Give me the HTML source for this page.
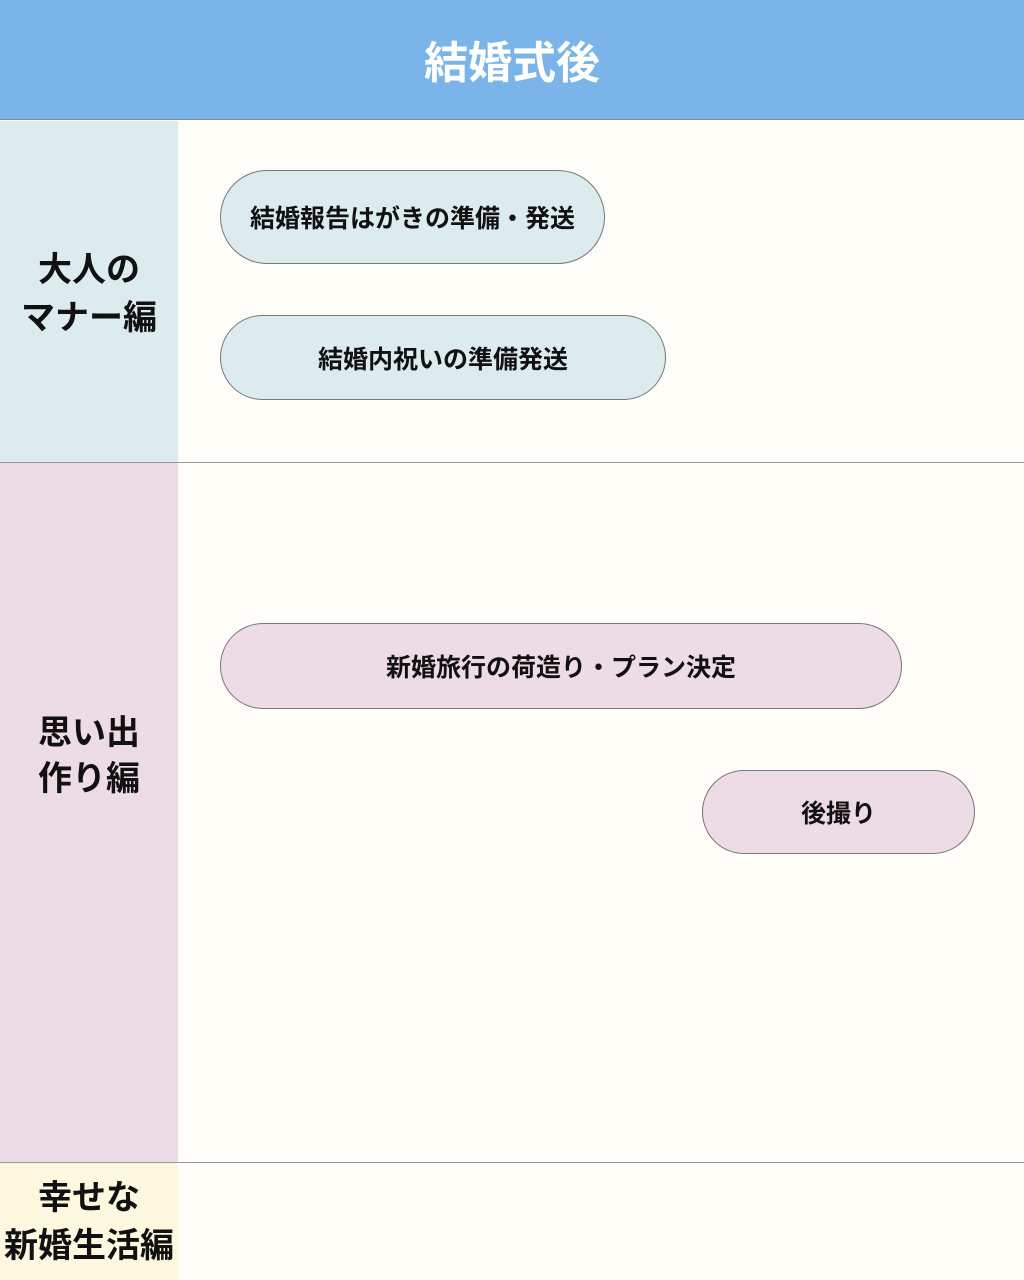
<!DOCTYPE html>
<html><head><meta charset="utf-8"><style>
*{margin:0;padding:0;box-sizing:border-box}
body{width:1024px;height:1280px;position:relative;background:#fefdf8;font-family:"Liberation Sans","Noto Sans CJK JP",sans-serif;font-weight:bold;overflow:hidden}
.abs{position:absolute}
.hdr{left:0;top:0;width:1024px;height:120px;background:#7ab4e8;border-bottom:1px solid #7a8a99;color:#fff;font-size:44px;display:flex;align-items:center;justify-content:center;padding-bottom:2px}
.side{left:0;width:178px;display:flex;align-items:center;justify-content:center;text-align:center;font-size:34px;line-height:48px;color:#111;white-space:nowrap}
.line{left:0;width:1024px;height:1px;background:#999}
.pill{display:flex;align-items:center;justify-content:center;border:1px solid #777;font-size:25px;color:#111}
</style></head><body>
<div class="abs hdr">結婚式後</div>
<div class="abs side" style="top:121px;height:341px;background:#dbebee;padding-top:4px">大人の<br>マナー編</div>
<div class="abs side" style="top:463px;height:699px;background:#eddbe6;padding-bottom:114px;line-height:46px">思い出<br>作り編</div>
<div class="abs side" style="top:1163px;height:117px;background:#fdf7e0;width:178px">幸せな<br>新婚生活編</div>
<div class="abs line" style="top:462px"></div>
<div class="abs line" style="top:1162px"></div>
<div class="abs pill" style="left:220px;top:170px;width:385px;height:94px;border-radius:47px;background:#dbebee">結婚報告はがきの準備・発送</div>
<div class="abs pill" style="left:220px;top:315px;width:446px;height:85px;border-radius:43px;background:#dbebee">結婚内祝いの準備発送</div>
<div class="abs pill" style="left:220px;top:623px;width:682px;height:86px;border-radius:43px;background:#eddbe6">新婚旅行の荷造り・プラン決定</div>
<div class="abs pill" style="left:702px;top:770px;width:273px;height:84px;border-radius:42px;background:#eddbe6">後撮り</div>
</body></html>
